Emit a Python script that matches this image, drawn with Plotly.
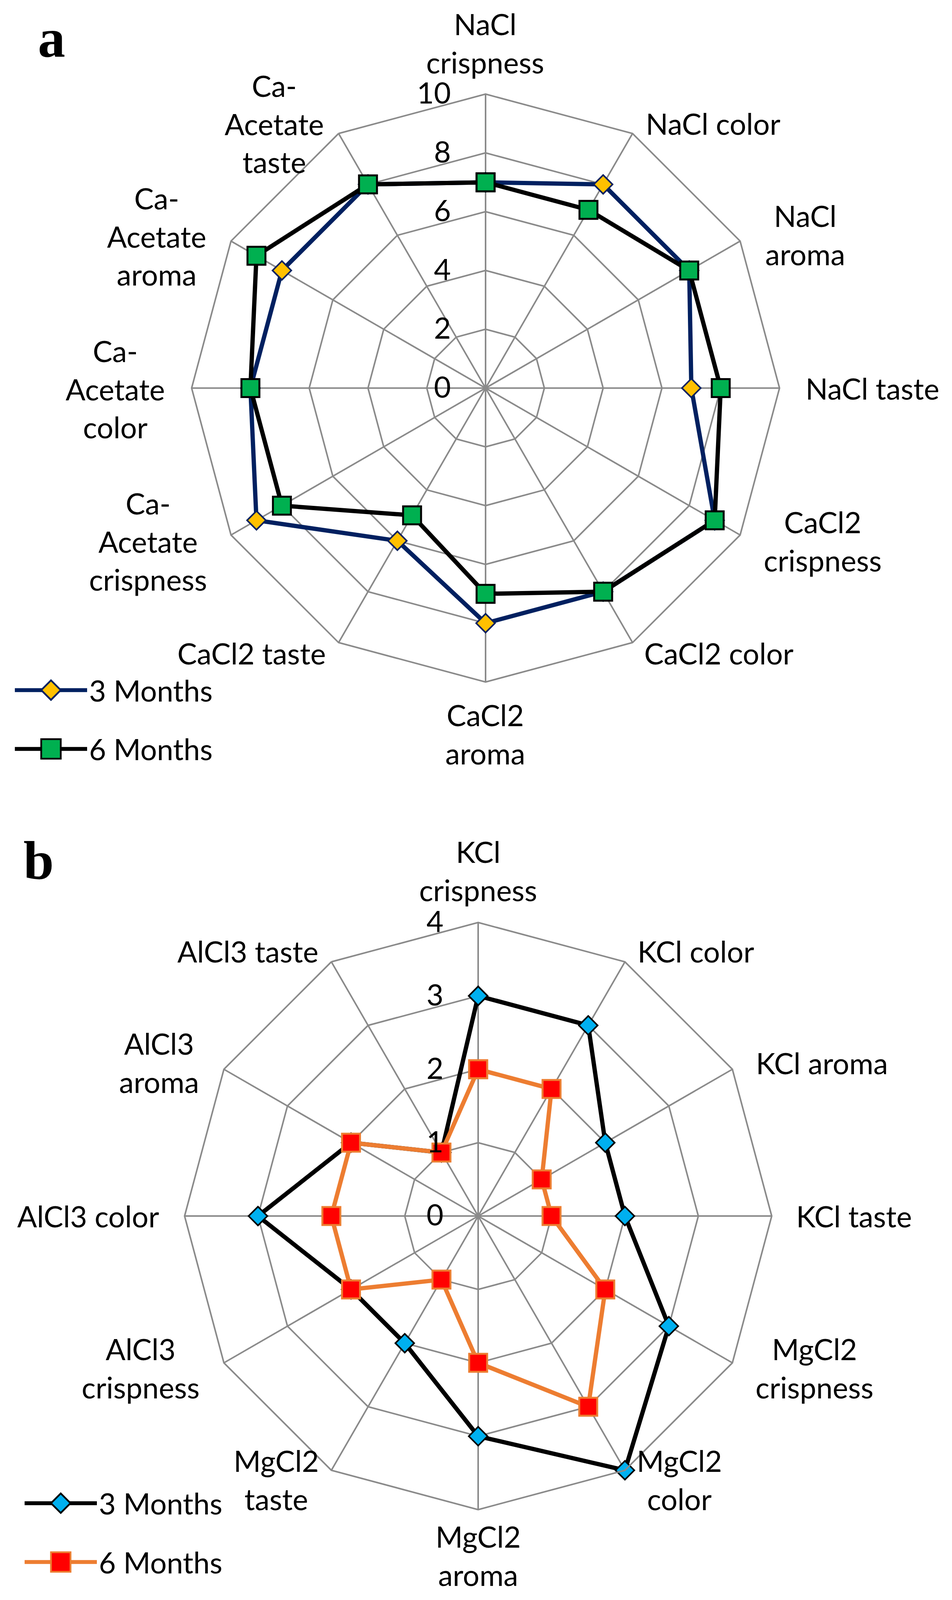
import plotly.graph_objects as go

W, H = 2437, 4284


def px(x):
    return x / W


def py(y):
    return 1 - y / H


# ---------------- data ----------------
cats_a = ["NaCl crispness", "NaCl color", "NaCl aroma", "NaCl taste",
          "CaCl2 crispness", "CaCl2 color", "CaCl2 aroma", "CaCl2 taste",
          "Ca-Acetate crispness", "Ca-Acetate color", "Ca-Acetate aroma", "Ca-Acetate taste"]
a_3months = [7, 8, 8, 7, 9, 8, 8, 6, 9, 8, 8, 8]
a_6months = [7, 7, 8, 8, 9, 8, 7, 5, 8, 8, 9, 8]
a_ticks = [0, 2, 4, 6, 8, 10]

cats_b = ["KCl crispness", "KCl color", "KCl aroma", "KCl taste",
          "MgCl2 crispness", "MgCl2 color", "MgCl2 aroma", "MgCl2 taste",
          "AlCl3 crispness", "AlCl3 color", "AlCl3 aroma", "AlCl3 taste"]
b_3months = [3, 3, 2, 2, 3, 4, 3, 2, 2, 3, 2, 1]
b_6months = [2, 2, 1, 1, 2, 3, 2, 1, 2, 2, 2, 1]
b_ticks = [0, 1, 2, 3, 4]

series_names = ["3 Months", "6 Months"]

# label text (wrapped like the original) and their pixel positions
labels_a = ["NaCl<br>crispness", "NaCl color", "NaCl<br>aroma", "NaCl taste",
            "CaCl2<br>crispness", "CaCl2 color", "CaCl2<br>aroma", "CaCl2 taste",
            "Ca-<br>Acetate<br>crispness", "Ca-<br>Acetate<br>color",
            "Ca-<br>Acetate<br>aroma", "Ca-<br>Acetate<br>taste"]
pos_a = [(1242, 115), (1825, 330), (2061, 629), (2233, 1040),
         (2106, 1449), (1840, 1749), (1242, 1965), (644, 1749),
         (379, 1449), (295, 1041), (401, 632), (702, 331)]
labels_b = ["KCl<br>crispness", "KCl color", "KCl aroma", "KCl taste",
            "MgCl2<br>crispness", "MgCl2<br>color", "MgCl2<br>aroma", "MgCl2<br>taste",
            "AlCl3<br>crispness", "AlCl3 color", "AlCl3<br>aroma", "AlCl3 taste"]
pos_b = [(1224, 2331), (1781, 2547), (2104, 2846), (2186, 3256),
         (2085, 3663), (1739, 3962), (1224, 4165), (707, 3962),
         (360, 3663), (225, 3256), (407, 2845), (634, 2547)]

FONT = "Lato"
FS = 75
GRID = "#8A8A8A"


def closed(v):
    return list(v) + [v[0]]


fig = go.Figure()

# chart a
fig.add_trace(go.Scatterpolar(
    r=closed(a_3months), theta=closed(cats_a), name=series_names[0],
    mode="lines+markers", subplot="polar", legend="legend", legendgroup="a3",
    line=dict(color="#002060", width=11),
    marker=dict(symbol="diamond", size=37, color="#FFC000",
                line=dict(color="#002060", width=4))))
fig.add_trace(go.Scatterpolar(
    r=closed(a_6months), theta=closed(cats_a), name=series_names[1],
    mode="lines+markers", subplot="polar", legend="legend", legendgroup="a6",
    line=dict(color="#000000", width=11),
    marker=dict(symbol="square", size=46, color="#00B050",
                line=dict(color="#000000", width=5))))

# chart b
fig.add_trace(go.Scatterpolar(
    r=closed(b_3months), theta=closed(cats_b), name=series_names[0],
    mode="lines+markers", subplot="polar2", legend="legend2", legendgroup="b3",
    line=dict(color="#000000", width=11),
    marker=dict(symbol="diamond", size=37, color="#00B0F0",
                line=dict(color="#000000", width=4))))
fig.add_trace(go.Scatterpolar(
    r=closed(b_6months), theta=closed(cats_b), name=series_names[1],
    mode="lines+markers", subplot="polar2", legend="legend2", legendgroup="b6",
    line=dict(color="#ED7D31", width=11),
    marker=dict(symbol="square", size=46, color="#FF0000",
                line=dict(color="#ED7D31", width=5))))


def polar_layout(cx, cy, R, cats, rmax, ticks):
    return dict(
        domain=dict(x=[px(cx - R), px(cx + R)],
                    y=[py(cy + R), py(cy - R)]),
        bgcolor="white",
        gridshape="linear",
        radialaxis=dict(range=[0, rmax], tickvals=ticks, showline=False,
                        angle=90, side="counterclockwise", tickangle=90,
                        ticks="outside", ticklen=62, tickcolor="rgba(0,0,0,0)",
                        gridcolor=GRID, gridwidth=4, layer="above traces",
                        tickfont=dict(family=FONT, size=FS, color="black")),
        angularaxis=dict(type="category", categoryarray=cats, direction="clockwise",
                         rotation=90, showticklabels=False, ticks="",
                         gridcolor=GRID, gridwidth=4,
                         showline=True, linecolor=GRID, linewidth=4),
    )


annotations = []
for txt, (x, y) in list(zip(labels_a, pos_a)) + list(zip(labels_b, pos_b)):
    annotations.append(dict(text=txt, x=px(x), y=py(y), xref="paper", yref="paper",
                            xanchor="center", yanchor="middle", showarrow=False,
                            font=dict(family=FONT, size=FS, color="black")))
annotations.append(dict(text="<b>a</b>", x=px(95), y=py(185), xref="paper", yref="paper",
                        xanchor="left", yanchor="bottom", showarrow=False,
                        font=dict(family="Liberation Serif", size=140, color="black")))
annotations.append(dict(text="<b>b</b>", x=px(58), y=py(2387), xref="paper", yref="paper",
                        xanchor="left", yanchor="bottom", showarrow=False,
                        font=dict(family="Liberation Serif", size=140, color="black")))

legend_common = dict(font=dict(family=FONT, size=FS, color="black"), bgcolor="rgba(0,0,0,0)",
                     itemwidth=185, tracegroupgap=50, xanchor="left",
                     itemclick=False, itemdoubleclick=False)

fig.update_layout(
    width=W, height=H, margin=dict(l=0, r=0, t=0, b=0),
    paper_bgcolor="white", plot_bgcolor="white",
    polar=polar_layout(1243, 1039, 787, cats_a, 10, a_ticks),
    polar2=polar_layout(1224, 3256, 786, cats_b, 4, b_ticks),
    annotations=annotations,
    showlegend=True,
    legend=dict(x=px(33), y=py(1790), yanchor="top", **legend_common),
    legend2=dict(x=px(58), y=py(4240), yanchor="bottom", **legend_common),
)

# fit the page to the visible window and enlarge the legend symbols
post = """
var gd = document.getElementById('{plot_id}');
function fixLegend(){
  gd.querySelectorAll('.legendpoints path.scatterpts').forEach(function(p){
    var bb = p.getBBox();
    if (!bb.width) { return; }
    var s = 50 / bb.width;
    var t = p.getAttribute('transform') || '';
    p.setAttribute('transform', t + ' scale(' + s + ')');
    p.style.strokeWidth = (4.5 / s) + 'px';
  });
}
document.documentElement.style.margin = '0';
document.body.style.margin = '0';
document.documentElement.style.overflow = 'hidden';
document.body.style.overflow = 'hidden';
var V = window.innerHeight, Wd = window.innerWidth;
if (V > 300 && Wd > 300 && (V !== 4284 || Wd !== 2437)) {
  Plotly.relayout(gd, {width: Wd, height: V}).then(fixLegend);
} else {
  fixLegend();
}
"""

fig.write_html("out.html", post_script=post,
               config={"displayModeBar": False, "staticPlot": True})
